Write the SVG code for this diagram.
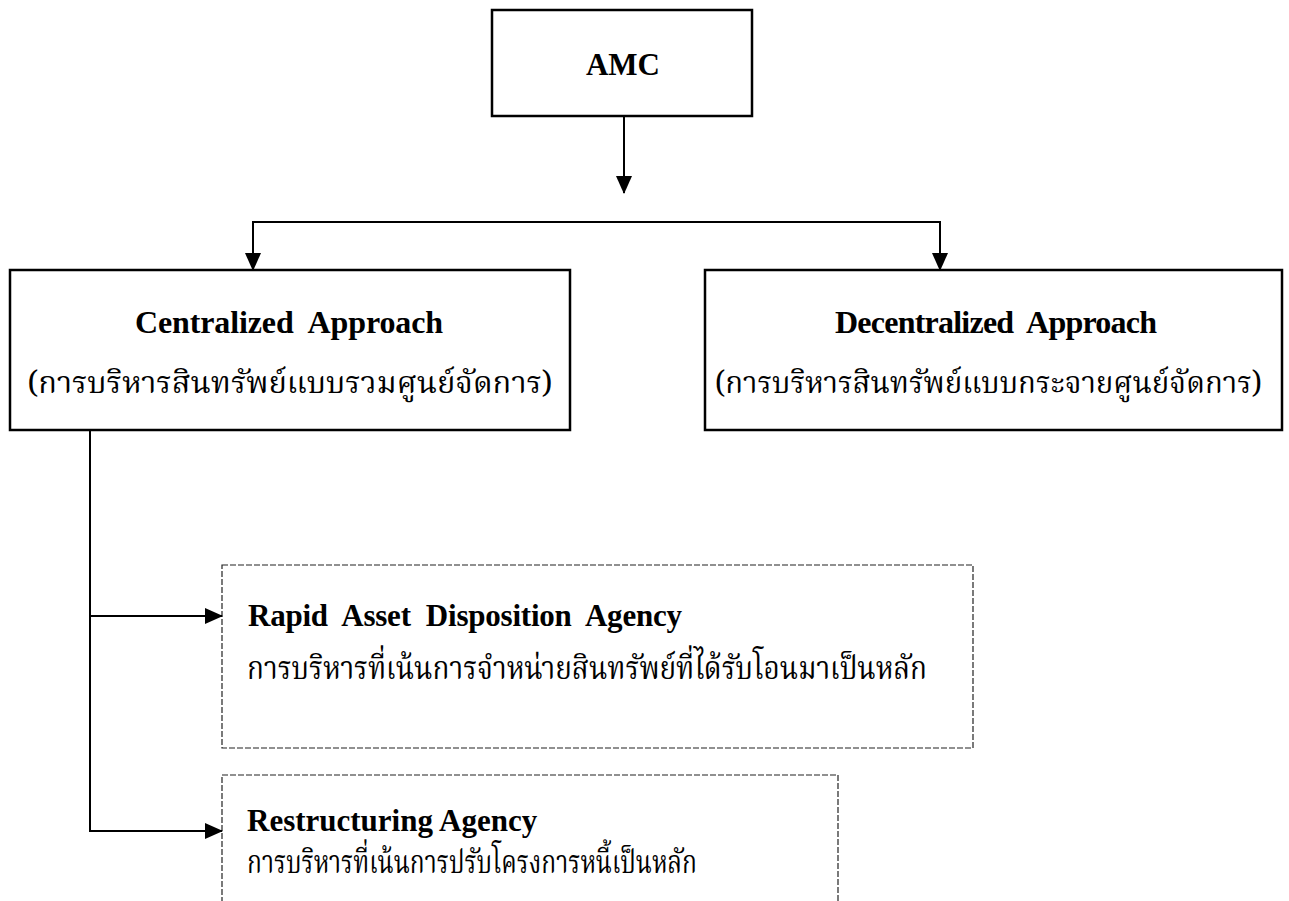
<svg xmlns="http://www.w3.org/2000/svg" width="1289" height="901" viewBox="0 0 1289 901">
<style>
.box{fill:#fff;stroke:#000;stroke-width:2.5}
.dbox{fill:#fff;stroke:#222;stroke-width:1.2;stroke-dasharray:6 2}
.en{font-family:"Liberation Serif",serif;font-weight:bold;fill:#000;white-space:pre}
.th{font-family:"Noto Serif Thai","Noto Sans Thai Looped","Liberation Serif",serif;fill:#000}
.ln{fill:none;stroke:#000;stroke-width:2}
</style>
<defs>
<marker id="ahb" markerWidth="18" markerHeight="18" refX="17" refY="9" orient="auto" markerUnits="userSpaceOnUse" viewBox="0 0 18 18">
<path d="M0,1 L18,9 L0,17 Z" fill="#000"/>
</marker>
</defs>
<g id="amc">
<rect class="box" x="492" y="10" width="260" height="106"/>
<text class="en" x="623" y="75" font-size="31" text-anchor="middle">AMC</text>
</g>
<g id="centralized">
<rect class="box" x="10" y="270" width="560" height="160"/>
<text class="en" x="135" y="333" font-size="32" textLength="308" lengthAdjust="spacing" xml:space="preserve">Centralized  Approach</text>
<text class="th" x="290" y="393" font-size="31" text-anchor="middle" textLength="525" lengthAdjust="spacingAndGlyphs">(การบริหารสินทรัพย์แบบรวมศูนย์จัดการ)</text>
</g>
<g id="decentralized">
<rect class="box" x="705" y="270" width="577" height="160"/>
<text class="en" x="835" y="333" font-size="32" textLength="322" lengthAdjust="spacing" xml:space="preserve">Decentralized  Approach</text>
<text class="th" x="715" y="393" font-size="30" textLength="547" lengthAdjust="spacingAndGlyphs">(การบริหารสินทรัพย์แบบกระจายศูนย์จัดการ)</text>
</g>
<g id="rapid">
<rect class="dbox" x="222" y="565" width="751" height="183"/>
<text class="en" x="248" y="626" font-size="31" textLength="434" lengthAdjust="spacing" xml:space="preserve">Rapid  Asset  Disposition  Agency</text>
<text class="th" x="247" y="679" font-size="32" textLength="680" lengthAdjust="spacingAndGlyphs">การบริหารที่เน้นการจำหน่ายสินทรัพย์ที่ได้รับโอนมาเป็นหลัก</text>
</g>
<g id="restructuring">
<rect class="dbox" x="222" y="775" width="616" height="140"/>
<text class="en" x="247" y="831" font-size="31">Restructuring Agency</text>
<text class="th" x="247" y="873" font-size="32" textLength="450" lengthAdjust="spacingAndGlyphs">การบริหารที่เน้นการปรับโครงการหนี้เป็นหลัก</text>
</g>
<g id="connectors">
<line class="ln" x1="624" y1="116" x2="624" y2="193" marker-end="url(#ahb)"/>
<polyline class="ln" points="253,222 940,222"/>
<line class="ln" x1="253" y1="221" x2="253" y2="270" marker-end="url(#ahb)"/>
<line class="ln" x1="940" y1="221" x2="940" y2="270" marker-end="url(#ahb)"/>
<polyline class="ln" points="90,430 90,831 222,831" marker-end="url(#ahb)"/>
<line class="ln" x1="90" y1="616" x2="222" y2="616" marker-end="url(#ahb)"/>
</g>
</svg>
